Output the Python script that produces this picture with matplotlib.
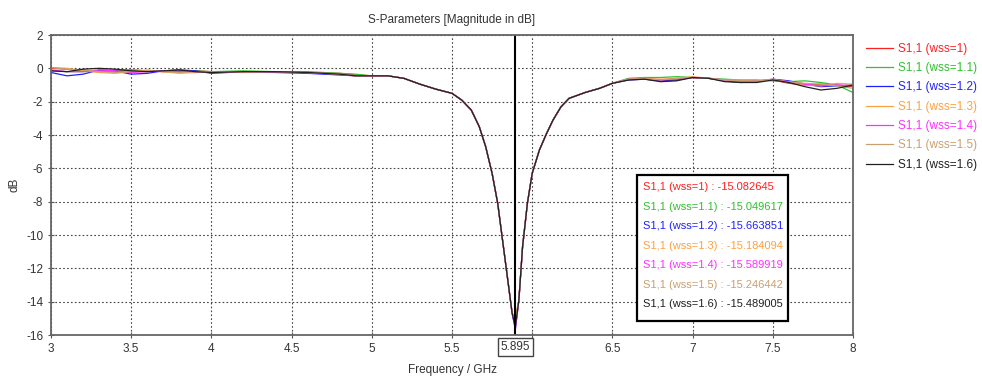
import matplotlib
matplotlib.use('Agg')
import matplotlib.pyplot as plt
import numpy as np
from matplotlib.patches import Rectangle
from matplotlib.transforms import blended_transform_factory

plt.rcParams['font.family'] = ['Liberation Sans', 'DejaVu Sans']
plt.rcParams['axes.unicode_minus'] = False

"""
Data read off the picture
"""
labels = ['S1,1 (wss=1)', 'S1,1 (wss=1.1)', 'S1,1 (wss=1.2)', 'S1,1 (wss=1.3)',
          'S1,1 (wss=1.4)', 'S1,1 (wss=1.5)', 'S1,1 (wss=1.6)']
colors = ['#ff2020', '#30c030', '#2020ff', '#ffa040', '#ff30ff', '#c8a070', '#202020']

# low band, 3.0 .. 4.9 GHz
freq_low = [3.0, 3.1, 3.2, 3.3, 3.4, 3.5, 3.6, 3.7, 3.8, 3.9, 4.0, 4.2, 4.4, 4.6, 4.8, 4.9]
low_red = [0.0, -0.05, -0.15, -0.2, -0.15, -0.1, -0.15, -0.2, -0.2, -0.15, -0.2, -0.2, -0.2, -0.25, -0.3, -0.4]
low_green = [-0.15, -0.2, -0.2, -0.15, -0.1, -0.1, -0.15, -0.15, -0.1, -0.15, -0.2, -0.15, -0.2, -0.2, -0.3, -0.35]
low_blue = [-0.25, -0.45, -0.35, -0.1, -0.15, -0.35, -0.3, -0.15, -0.1, -0.15, -0.3, -0.2, -0.25, -0.3, -0.4, -0.45]
low_orange = [0.05, 0.0, -0.15, -0.25, -0.3, -0.2, -0.1, -0.2, -0.3, -0.25, -0.2, -0.25, -0.2, -0.25, -0.35, -0.45]
low_magenta = [-0.1, -0.2, -0.2, -0.1, -0.15, -0.25, -0.2, -0.15, -0.15, -0.2, -0.25, -0.2, -0.2, -0.25, -0.35, -0.45]
low_tan = [0.05, -0.05, -0.1, -0.2, -0.25, -0.2, -0.15, -0.2, -0.25, -0.2, -0.2, -0.2, -0.2, -0.25, -0.35, -0.45]
low_black = [-0.15, -0.2, -0.05, 0.0, -0.05, -0.15, -0.2, -0.15, -0.1, -0.2, -0.25, -0.2, -0.2, -0.25, -0.35, -0.45]

# resonance, 5.0 .. 6.5 GHz (all curves overlap here), minimum from marker table
freq_dip_left = [5.0, 5.1, 5.2, 5.3, 5.4, 5.5, 5.56, 5.62, 5.67, 5.71, 5.75, 5.785, 5.815, 5.845, 5.875]
dip_left = [-0.45, -0.45, -0.6, -0.95, -1.25, -1.5, -1.9, -2.5, -3.5, -4.7, -6.3, -8.1, -10.3, -12.5, -14.7]
f_min = 5.895
s11_min = [-15.082645, -15.049617, -15.663851, -15.184094, -15.589919, -15.246442, -15.489005]
freq_dip_right = [5.917, 5.94, 5.97, 6.0, 6.045, 6.09, 6.13, 6.18, 6.23, 6.33, 6.42, 6.5]
dip_right = [-13.9, -10.7, -8.1, -6.3, -4.9, -3.9, -3.1, -2.3, -1.8, -1.45, -1.2, -0.9]

# high band, 6.6 .. 8.0 GHz
freq_high = [6.6, 6.7, 6.8, 6.9, 7.0, 7.1, 7.2, 7.3, 7.4, 7.5, 7.6, 7.7, 7.8, 7.9, 8.0]
high_red = [-0.65, -0.65, -0.7, -0.65, -0.55, -0.6, -0.7, -0.75, -0.75, -0.7, -0.9, -1.0, -0.95, -1.0, -1.1]
high_green = [-0.6, -0.55, -0.55, -0.5, -0.55, -0.6, -0.65, -0.7, -0.7, -0.75, -0.8, -0.75, -0.85, -1.0, -1.45]
high_blue = [-0.7, -0.65, -0.75, -0.7, -0.55, -0.6, -0.75, -0.85, -0.8, -0.65, -0.75, -0.95, -1.1, -1.05, -1.0]
high_orange = [-0.65, -0.6, -0.65, -0.6, -0.5, -0.6, -0.7, -0.7, -0.75, -0.65, -0.85, -1.0, -1.05, -0.9, -0.95]
high_magenta = [-0.65, -0.65, -0.7, -0.65, -0.55, -0.6, -0.7, -0.8, -0.75, -0.7, -0.8, -0.95, -1.05, -1.0, -1.05]
high_tan = [-0.65, -0.6, -0.7, -0.6, -0.55, -0.6, -0.7, -0.75, -0.75, -0.7, -0.8, -0.9, -0.95, -1.05, -1.2]
high_black = [-0.7, -0.65, -0.8, -0.75, -0.55, -0.6, -0.8, -0.85, -0.85, -0.7, -0.85, -1.1, -1.3, -1.2, -1.0]

low_bands = [low_red, low_green, low_blue, low_orange, low_magenta, low_tan, low_black]
high_bands = [high_red, high_green, high_blue, high_orange, high_magenta, high_tan, high_black]

xticks = [3, 3.5, 4, 4.5, 5, 5.5, 6, 6.5, 7, 7.5, 8]
xticklabels = ['3', '3.5', '4', '4.5', '5', '5.5', '', '6.5', '7', '7.5', '8']
yticks = [2, 0, -2, -4, -6, -8, -10, -12, -14, -16]

W, H = 982, 376
fig = plt.figure(figsize=(W / 100, H / 100), dpi=100)
ax = fig.add_axes([51 / W, 1 - 335 / H, (853 - 51) / W, (335 - 35) / H])

for i in range(len(labels)):
    f = freq_low + freq_dip_left + [f_min] + freq_dip_right + freq_high
    s = low_bands[i] + dip_left + [s11_min[i]] + dip_right + high_bands[i]
    ax.plot(f, s, color=colors[i], lw=0.9, label=labels[i])

ax.axvline(f_min, color='black', lw=1.5)

ax.set_xlim(3, 8)
ax.set_ylim(-16, 2)
ax.set_xticks(xticks)
ax.set_xticklabels(xticklabels)
ax.set_yticks(yticks)
ax.tick_params(labelsize=8.5, direction='inout', length=4, color='#555555', labelcolor='#333333')
ax.grid(True, color='#444444', linestyle=(0, (1.5, 2.0)), lw=0.8)
for sp in ax.spines.values():
    sp.set_color('#666666')
    sp.set_linewidth(1.3)

ax.set_title('S-Parameters [Magnitude in dB]', fontsize=8.5, color='#333333', pad=9)
ax.set_xlabel('Frequency / GHz', fontsize=8.5, color='#333333', labelpad=7)
ax.set_ylabel('dB', fontsize=8.5, color='#333333', labelpad=4)

# marker label under the x axis
trans = blended_transform_factory(ax.transData, fig.transFigure)
ax.text(f_min, 1 - 347 / H, '%.3f' % f_min, transform=trans, ha='center', va='center',
        fontsize=8.5, color='#333333',
        bbox=dict(boxstyle='square,pad=0.25', fc='white', ec='#444444', lw=1.0))

# legend on the right
leg = fig.legend(loc='upper left', bbox_to_anchor=(861 / W, 1 - 38 / H), frameon=False,
                 fontsize=8.5, handlelength=2.3, handletextpad=0.4, labelspacing=0.62,
                 labelcolor='linecolor', borderaxespad=0)

# marker value box
x0, y0, x1, y1 = 637, 175, 788, 321
fig.patches.append(Rectangle((x0 / W, 1 - y1 / H), (x1 - x0) / W, (y1 - y0) / H,
                             transform=fig.transFigure, fc='white', ec='black', lw=1.6, zorder=5))
for i in range(len(labels)):
    fig.text(643 / W, 1 - (187 + i * 19.5) / H, '%s : %.6f' % (labels[i], s11_min[i]),
             color=colors[i], fontsize=8, va='center', ha='left', zorder=6)

fig.savefig('out.png', dpi=100)
